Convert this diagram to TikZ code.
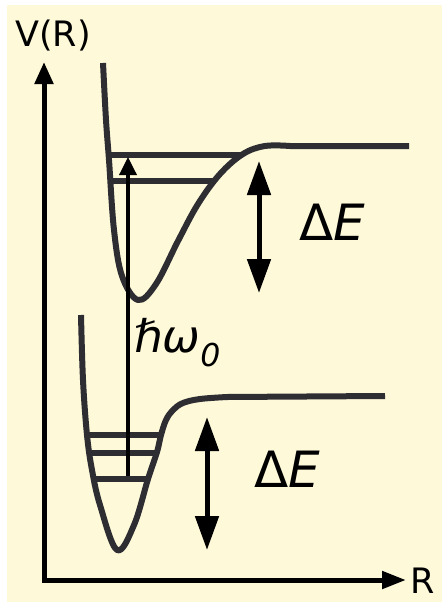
\documentclass[tikz,border=0pt]{standalone}
\usepackage{fontspec}
\setmainfont{DejaVu Sans}
\usetikzlibrary{arrows.meta}
\definecolor{vrBg}{HTML}{FEF9D9}
\definecolor{vrCurve}{HTML}{2E2E32}
\tikzset{
  axis/.style={line width=5pt, line join=miter,
    {Triangle[length=22pt, width=18pt]}-{Triangle[length=24pt, width=17pt]}},
  curve/.style={line width=6pt, vrCurve, line join=round},
  level/.style={line width=5.5pt, vrCurve},
  gap/.style={line width=5pt,
    {Triangle[length=34pt, width=23pt]}-{Triangle[length=34pt, width=23pt]}},
  photon/.style={line width=3.5pt, -{Triangle[length=18pt, width=17pt]}},
  lbl/.style={inner sep=0pt, anchor=base west}
}

\begin{document}
\begin{tikzpicture}[x=1pt, y=-1pt]
  \useasboundingbox (0,0) rectangle (442,602);
  \fill[vrBg] (7,5) rectangle (442,602);
  % axes
  \coordinate (vtop) at (44,62);
  \coordinate (origin) at (44,580);
  \coordinate (rend) at (406,580);
  \draw[axis] (vtop) -- (origin) -- (rend);
  \node[lbl, font=\fontsize{35}{40}\selectfont] (vlabel) at (15,47) {V(R)};
  \node[lbl, font=\fontsize{35}{40}\selectfont] (rlabel) at (410,593) {R};
  % excited state potential
  \draw[curve] plot[smooth, tension=0.6] coordinates {(103,63) (106,120) (109,160)
    (114,230) (122,276) (138,300) (156,284) (178,241) (198,204) (220,174)
    (243,154) (265,146) (290,146)} -- (409,146);
  \draw[level] (109,155) -- (242,155);
  \draw[level] (112,181) -- (214,181);
  % ground state potential
  \draw[curve] plot[smooth, tension=0.6] coordinates {(81,315) (83,380) (87,435)
    (92,470) (100,505) (117,550) (134,525) (148,479) (157,452) (161,435)
    (166,420) (173,410) (183,403) (200,399) (227,397)} -- (385,396);
  \draw[level] (87,435) -- (161,435);
  \draw[level] (89,453) -- (157,453);
  \draw[level] (95,479) -- (149,479);
  % transitions and gaps
  \coordinate (ground) at (128,476);
  \coordinate (excited) at (128,157);
  \draw[photon] (ground) -- (excited);
  \node[lbl, font=\fontsize{45}{50}\selectfont] (hw) at (134,352)
    {\textit{ℏω\textsubscript{0}}};
  \coordinate (gapUtop) at (259,161);
  \coordinate (gapUbot) at (259,293);
  \draw[gap] (gapUtop) -- (gapUbot);
  \node[lbl, font=\fontsize{50}{55}\selectfont] (dEu) at (299,240) {Δ\textit{E}};
  \coordinate (gapLtop) at (207,417);
  \coordinate (gapLbot) at (207,550);
  \draw[gap] (gapLtop) -- (gapLbot);
  \node[lbl, font=\fontsize{50}{55}\selectfont] (dEl) at (254,487) {Δ\textit{E}};
\end{tikzpicture}
\end{document}
